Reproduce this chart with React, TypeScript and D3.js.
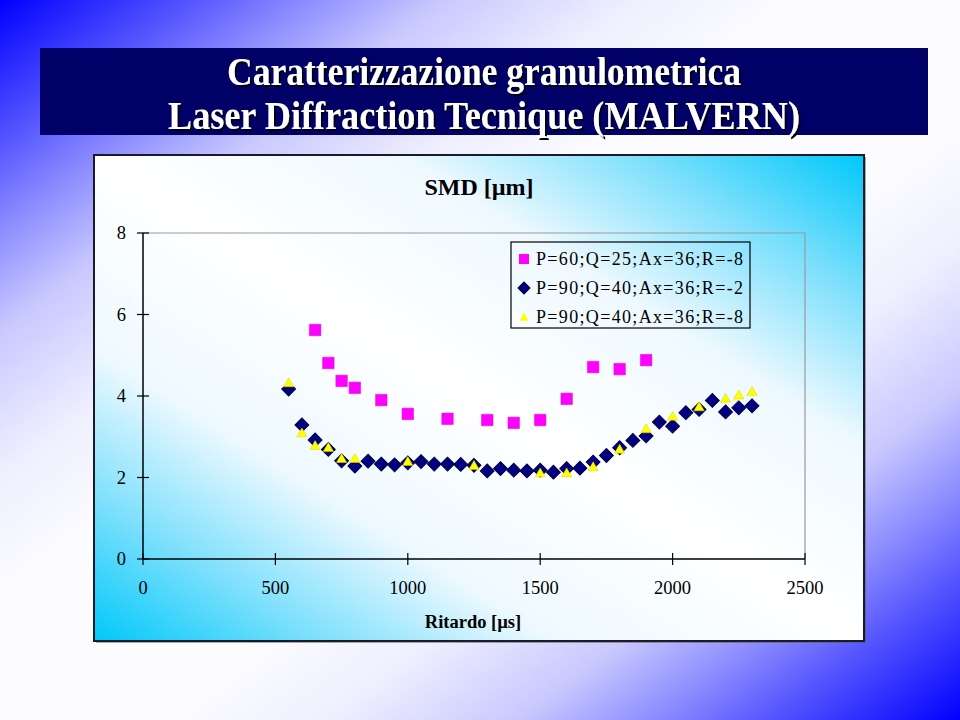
import React from "react";
import * as d3 from "d3";

const titleLines = ["Caratterizzazione granulometrica", "Laser Diffraction Tecnique (MALVERN)"];
const chartTitle = "SMD [µm]";
const xAxisTitle = "Ritardo [µs]";
const xTicks = [0, 500, 1000, 1500, 2000, 2500];
const yTicks = [0, 2, 4, 6, 8];

const seriesNames = [
  "P=60;Q=25;Ax=36;R=-8",
  "P=90;Q=40;Ax=36;R=-2",
  "P=90;Q=40;Ax=36;R=-8",
];

const sqX = [650, 700, 750, 800, 900, 1000, 1150, 1300, 1400, 1500, 1600, 1700, 1800, 1900];
const sqY = [5.62, 4.81, 4.37, 4.2, 3.9, 3.56, 3.44, 3.41, 3.34, 3.41, 3.93, 4.71, 4.66, 4.88];

const diX = [550, 600, 650, 700, 750, 800, 850, 900, 950, 1000, 1050, 1100, 1150, 1200, 1250, 1300, 1350, 1400,
  1450, 1500, 1550, 1600, 1650, 1700, 1750, 1800, 1850, 1900, 1950, 2000, 2050, 2100, 2150, 2200, 2250, 2300];
const diY = [4.17, 3.29, 2.92, 2.69, 2.41, 2.28, 2.4, 2.33, 2.31, 2.36, 2.39, 2.33, 2.33, 2.32, 2.3, 2.16, 2.22, 2.18,
  2.16, 2.18, 2.13, 2.22, 2.23, 2.38, 2.54, 2.73, 2.91, 3.02, 3.36, 3.26, 3.59, 3.67, 3.89, 3.61, 3.71, 3.76];

const trX = [550, 600, 650, 700, 750, 800, 1000, 1250, 1500, 1600, 1700, 1800, 1900, 2000, 2100, 2200, 2250, 2300];
const trY = [4.3, 3.07, 2.76, 2.71, 2.44, 2.44, 2.37, 2.27, 2.09, 2.09, 2.24, 2.67, 3.17, 3.48, 3.71, 3.92, 4.0, 4.09];

const SERIF = "Liberation Serif";

const pageStops: [number, string][] = [
  [0, "#0000ff"], [0.1, "#5555ff"], [0.16, "#8c8cff"], [0.23, "#c8c8ff"], [0.33, "#efefff"], [0.42, "#fcfcff"],
  [0.58, "#fcfcff"], [0.67, "#efefff"], [0.77, "#c8c8ff"], [0.84, "#8c8cff"], [0.9, "#5555ff"], [1, "#0000ff"],
];
const chartStops: [number, string][] = [
  [0, "#00c8fa"], [0.15, "#7fe0fc"], [0.3, "#eef9ff"], [0.5, "#ffffff"], [0.7, "#eef9ff"], [0.85, "#7fe0fc"], [1, "#00c8fa"],
];

export default function App() {
  const x = d3.scaleLinear().domain([0, 2500]).range([143, 805]);
  const y = d3.scaleLinear().domain([0, 8]).range([559, 233]);

  const squarePath = d3.symbol().type(d3.symbolSquare).size(132)()!;
  const diamondPath = d3.symbol().type(d3.symbolSquare).size(96)()!;
  const trianglePath = d3.symbol().type(d3.symbolTriangle).size(46)()!;
  const legSquare = d3.symbol().type(d3.symbolSquare).size(100)()!;
  const legDiamond = d3.symbol().type(d3.symbolSquare).size(72)()!;
  const legTriangle = d3.symbol().type(d3.symbolTriangle).size(36)()!;

  const [x0, x1] = x.range();
  const [yb, yt] = y.range();

  return (
    <div style={{ position: "absolute", left: 0, top: 0 }}>
      <svg width={960} height={720} style={{ display: "block" }}>
        <defs>
          <linearGradient id="pageBg" x1="0" y1="0" x2="1" y2="1">
            {pageStops.map(([o, c], i) => <stop key={i} offset={o} stopColor={c} />)}
          </linearGradient>
          <linearGradient id="chartBg" x1="0" y1="1" x2="1" y2="0">
            {chartStops.map(([o, c], i) => <stop key={i} offset={o} stopColor={c} />)}
          </linearGradient>
          <filter id="shadow" x="-5%" y="-20%" width="110%" height="140%">
            <feDropShadow dx="2" dy="2" stdDeviation="0.3" floodColor="#000018" floodOpacity="1" />
          </filter>
        </defs>
        <rect x={0} y={0} width={960} height={720} fill="url(#pageBg)" />

        {/* title banner */}
        <rect x={40} y={48} width={888} height={87} fill="#000066" />
        <g fontFamily={SERIF} fontWeight="bold" fontSize={39} textAnchor="middle" fill="#ffffff" filter="url(#shadow)">
          {titleLines.map((t, i) => (
            <text key={i} x={484} y={i === 0 ? 85 : 129} textLength={i === 0 ? 514 : 632} lengthAdjust="spacingAndGlyphs">
              {t}
            </text>
          ))}
        </g>

        {/* chart frame */}
        <rect x={96} y={157} width={770} height={486} fill="#555" opacity={0.5} />
        <rect x={94} y={155} width={770} height={486} fill="url(#chartBg)" stroke="#1a1a2a" strokeWidth={2} />

        <text x={479} y={195} textAnchor="middle" fontFamily={SERIF} fontWeight="bold" fontSize={24} fill="#000">
          {chartTitle}
        </text>

        {/* plot area top/right border */}
        <path d={`M${x0},${yt}H${x1}V${yb}`} fill="none" stroke="#9a9a9a" strokeWidth={1.2} />

        {/* axes */}
        <line x1={x0} y1={yb} x2={x1} y2={yb} stroke="#000" strokeWidth={1.5} />
        <line x1={x0} y1={yb} x2={x0} y2={yt} stroke="#000" strokeWidth={1.5} />
        {xTicks.map((t) => (
          <g key={"xt" + t}>
            <line x1={x(t)} x2={x(t)} y1={yb - 6} y2={yb + 6} stroke="#000" strokeWidth={1.2} />
            <text x={x(t)} y={yb + 35} textAnchor="middle" fontFamily={SERIF} fontSize={18.5} fill="#000">{t}</text>
          </g>
        ))}
        {yTicks.map((t) => (
          <g key={"yt" + t}>
            <line x1={x0 - 6} x2={x0 + 6} y1={y(t)} y2={y(t)} stroke="#000" strokeWidth={1.2} />
            <text x={126} y={y(t) + 6} textAnchor="end" fontFamily={SERIF} fontSize={18.5} fill="#000">{t}</text>
          </g>
        ))}
        <text x={473} y={628} textAnchor="middle" fontFamily={SERIF} fontWeight="bold" fontSize={18.5} fill="#000">
          {xAxisTitle}
        </text>

        {/* series */}
        {sqX.map((v, i) => (
          <path key={"s" + i} d={squarePath} transform={`translate(${x(v)},${y(sqY[i])})`} fill="#ff00ff" stroke="#e000e0" strokeWidth={0.5} />
        ))}
        {diX.map((v, i) => (
          <path key={"d" + i} d={diamondPath} transform={`translate(${x(v)},${y(diY[i])}) rotate(45)`} fill="#000080" stroke="#000040" strokeWidth={1} />
        ))}
        {trX.map((v, i) => (
          <path key={"t" + i} d={trianglePath} transform={`translate(${x(v)},${y(trY[i])})`} fill="#ffff00" stroke="#d8d800" strokeWidth={0.5} />
        ))}

        {/* legend */}
        <rect x={511} y={242} width={239} height={86} fill="none" stroke="#000" strokeWidth={1.2} />
        <path d={legSquare} transform="translate(524,259)" fill="#ff00ff" />
        <path d={legDiamond} transform="translate(524,288) rotate(45)" fill="#000080" stroke="#000040" strokeWidth={1} />
        <path d={legTriangle} transform="translate(524,318)" fill="#ffff00" />
        {seriesNames.map((n, i) => (
          <text key={"l" + i} x={536} y={265 + i * 29} fontFamily={SERIF} fontSize={18} fill="#000" textLength={207} lengthAdjust="spacing">
            {n}
          </text>
        ))}
      </svg>
    </div>
  );
}
